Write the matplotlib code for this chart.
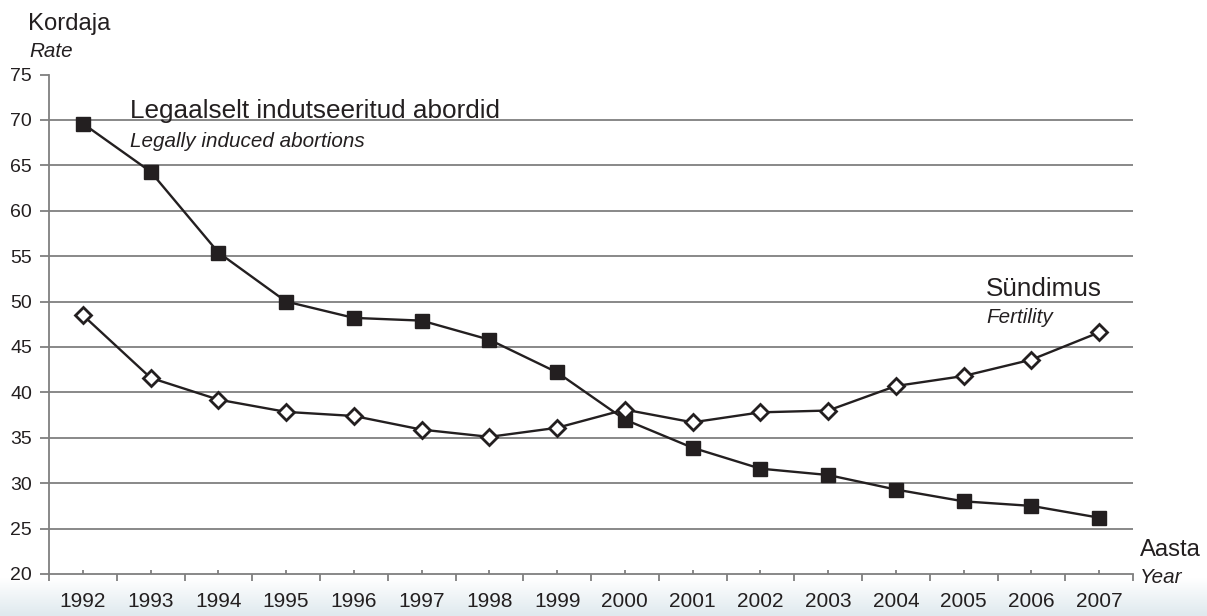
import numpy as np
import matplotlib
matplotlib.use("Agg")
import matplotlib.pyplot as plt
from matplotlib.colors import LinearSegmentedColormap

plt.rcParams['font.family'] = ['Liberation Sans', 'DejaVu Sans']

# data
years = [str(y) for y in range(1992, 2008)]
abortions = [69.6, 64.3, 55.4, 50.0, 48.2, 47.9, 45.8, 42.2,
             37.0, 33.9, 31.6, 30.9, 29.3, 28.0, 27.5, 26.2]
fertility = [48.5, 41.6, 39.2, 37.85, 37.4, 35.9, 35.1, 36.1,
             38.1, 36.7, 37.8, 38.0, 40.7, 41.8, 43.6, 46.6]
y_ticks = list(range(20, 80, 5))

W, H = 1207, 616
INK = '#231f20'
GRID = '#7f7f7f'

fig = plt.figure(figsize=(W / 100, H / 100), dpi=100)

# light blue band at the bottom
band = fig.add_axes([0, 0, 1, 38 / H], zorder=0)
cmap = LinearSegmentedColormap.from_list('band', ['#ffffff', '#dfe9ee'])
band.imshow(np.linspace(0, 1, 64).reshape(-1, 1), aspect='auto', cmap=cmap,
            extent=[0, 1, 0, 1], origin='upper')
band.axis('off')

ax = fig.add_axes([49 / W, 42 / H, (1133 - 49) / W, (574 - 74.5) / H], zorder=1)
ax.patch.set_alpha(0)
x = np.arange(len(years))

for v in y_ticks[1:-1]:
    ax.axhline(v, color=GRID, lw=1.3, zorder=1)

ax.plot(x, abortions, color=INK, lw=1.7, marker='s', ms=9.5,
        mfc=INK, mec=INK, zorder=3)
ax.plot(x, fertility, color=INK, lw=1.7, marker='D', ms=7.8,
        mfc='white', mec=INK, mew=2, zorder=3)

ax.set_xlim(-0.5, len(years) - 0.5)
ax.set_ylim(20, 75)
for s in ['top', 'right']:
    ax.spines[s].set_visible(False)
for s in ['left', 'bottom']:
    ax.spines[s].set_color(GRID)
    ax.spines[s].set_linewidth(1.3)

ax.set_yticks(y_ticks)
ax.tick_params(axis='y', direction='out', length=6.5, width=1.3, color=GRID,
               pad=5.8, labelsize=14, labelcolor=INK)
ax.set_xticks(np.arange(-0.5, len(years), 1))
ax.set_xticklabels([])
ax.tick_params(axis='x', which='major', direction='out', length=5, width=1.3, color=GRID)
ax.set_xticks(x, minor=True)
ax.set_xticklabels(years, minor=True)
ax.tick_params(axis='x', which='minor', direction='in', length=3, width=1.3, color=GRID,
               pad=13, labelsize=15, labelcolor=INK)

# series labels
ax.text(0.69, 70.2, 'Legaalselt indutseeritud abordid', fontsize=18.8, color=INK, va='baseline')
ax.text(0.69, 67.0, 'Legally induced abortions', fontsize=14.9, style='italic', color=INK, va='baseline')
ax.text(13.33, 50.6, 'Sündimus', fontsize=18.8, color=INK, va='baseline')
ax.text(13.33, 47.6, 'Fertility', fontsize=14.9, style='italic', color=INK, va='baseline')

# axis titles
fig.text(28 / W, 1 - 30 / H, 'Kordaja', fontsize=17.2, color=INK, va='baseline')
fig.text(29 / W, 1 - 57 / H, 'Rate', fontsize=14.9, style='italic', color=INK, va='baseline')
fig.text(1140 / W, 1 - 556 / H, 'Aasta', fontsize=17.2, color=INK, va='baseline')
fig.text(1140 / W, 1 - 583 / H, 'Year', fontsize=14.9, style='italic', color=INK, va='baseline')

plt.savefig('out.png', dpi=100)
plt.close()
